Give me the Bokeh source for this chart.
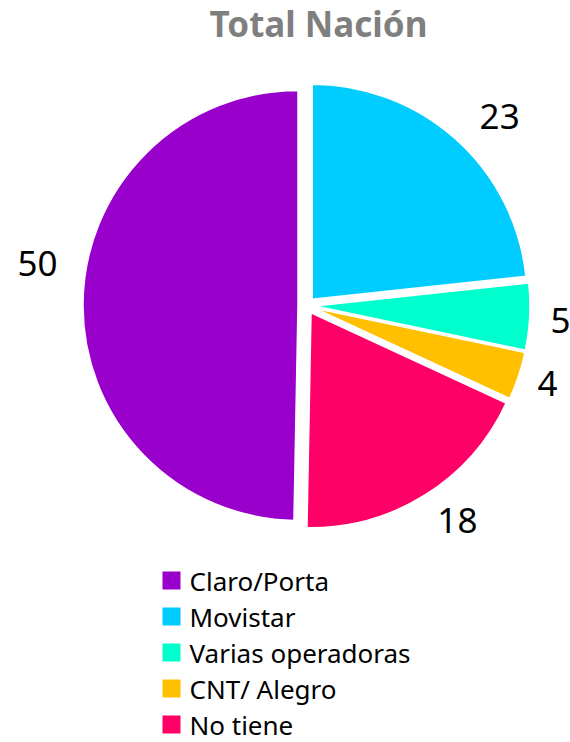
import numpy as np
from bokeh.plotting import figure
from bokeh.models import Range1d, ColumnDataSource
from bokeh.embed import file_html
from bokeh.resources import INLINE
from bokeh.core.properties import value

# ---- data ----
title_text = "Total Nación"
categories = ["Claro/Porta", "Movistar", "Varias operadoras", "CNT/ Alegro", "No tiene"]
shares = [49.7, 23.3, 5.0, 3.6, 18.4]
labels = ["50", "23", "5", "4", "18"]
colors = ["#9900CC", "#00CCFF", "#00FFCC", "#FFC000", "#FF0066"]

# ---- layout ----
W, H = 570, 742
FONT = "Noto Sans"

def sx(img_x):
    return img_x

def sy(img_y):
    return H - img_y

cx, cy = sx(306), sy(305)
R = 215
EXPLODE = 8.5
LABEL_R = 262
label_nudge = [-8.3, -3.7, -0.5, 0.4, 3.0]   # degrees, label placement tweaks
label_rscale = [1.039, 1.031, 0.971, 0.967, 1.003]

vals = np.array(shares, dtype=float)
fr = vals / vals.sum()
cum = np.concatenate([[0.0], np.cumsum(fr)])
theta0 = 90.0 + 360.0 * fr[0]
a = theta0 - 360.0 * cum[:-1]   # clockwise start
b = theta0 - 360.0 * cum[1:]    # clockwise end
mid = (a + b) / 2.0
midr = np.radians(mid)

xs = cx + EXPLODE * np.cos(midr)
ys = cy + EXPLODE * np.sin(midr)

src = ColumnDataSource(dict(
    x=xs, y=ys,
    start=np.radians(b), end=np.radians(a),
    color=colors, cat=categories,
))

p = figure(width=W, height=H, x_range=Range1d(0, W), y_range=Range1d(0, H),
           output_backend="svg", toolbar_location=None, min_border=0,
           x_axis_type=None, y_axis_type=None)
p.grid.visible = False
p.outline_line_color = None
p.background_fill_color = "white"
p.border_fill_color = "white"

p.wedge(x="x", y="y", radius=R, start_angle="start", end_angle="end",
        fill_color="color", line_color="white", line_width=1.5, source=src)

# value labels
la = np.radians(mid + np.array(label_nudge))
lr = LABEL_R * np.array(label_rscale)
lsrc = ColumnDataSource(dict(
    x=cx + lr * np.cos(la), y=cy + lr * np.sin(la), t=labels))
p.text(x="x", y="y", text="t", source=lsrc, text_align="center",
       text_baseline="middle", text_font=value(FONT), text_font_size="35px",
       text_color="black")

# title
p.text(x=[sx(318)], y=[sy(23)], text=[title_text], text_align="center",
       text_baseline="middle", text_font=value(FONT), text_font_size="35px",
       text_font_style="bold", text_color="#7F7F7F")

# legend
n = len(categories)
row0, step = 580, 36.0
rows_y = np.array([sy(row0 + step * i) for i in range(n)])
p.scatter(x=[sx(171)] * n, y=rows_y, marker="square", size=18,
          fill_color=colors, line_color=None)
p.text(x=[sx(189)] * n, y=rows_y, text=categories, text_align="left",
       text_baseline="middle", text_font=value(FONT), text_font_size="26px",
       text_color="black")

open("out.html", "w").write(file_html(p, INLINE))
